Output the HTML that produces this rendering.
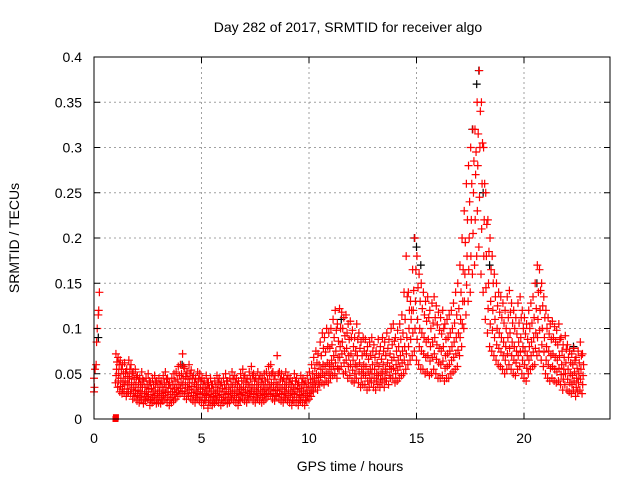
<!DOCTYPE html>
<html><head><meta charset="utf-8"><style>
html,body{margin:0;padding:0;background:#fff;}
svg{display:block;font-family:"Liberation Sans",sans-serif;}
</style></head><body>
<svg id="chart" width="640" height="480" viewBox="0 0 640 480">
<text x="348" y="32" font-size="14" text-anchor="middle">Day 282 of 2017, SRMTID for receiver algo</text>
<text x="350" y="471" font-size="14" text-anchor="middle">GPS time / hours</text>
<text transform="translate(19,238) rotate(-90)" font-size="14" text-anchor="middle">SRMTID / TECUs</text>
<g id="grid"></g>
<g id="marks"></g>
<g id="axes"></g>
</svg>
<script>
const xTicks=[0,5,10,15,20];
const yTicks=[0,0.05,0.1,0.15,0.2,0.25,0.3,0.35,0.4];
const yTickLabels=["0","0.05","0.1","0.15","0.2","0.25","0.3","0.35","0.4"];
const seriesStart=1.0, seriesStep=0.1;
// values in milli-TECU
const midVals=[55,50,45,40,42,38,45,40,35,38,32,30,35,28,30,33,27,30,32,28,30,28,32,35,30,27,30,33,35,38,40,45,38,35,40,36,32,30,35,33,30,28,32,27,30,25,28,32,30,27,30,33,28,30,35,32,30,28,33,35,32,30,35,38,33,30,35,32,30,33,35,38,40,35,32,38,35,33,30,35,32,30,28,33,30,27,32,30,28,32,35,40,45,50,48,55,60,58,62,60,65,70,75,68,80,85,75,78,70,72,65,60,70,62,55,60,58,52,55,60,55,50,58,52,60,55,62,58,65,68,60,65,70,75,80,90,100,110,120,130,110,100,95,90,85,88,80,85,90,82,78,75,80,70,72,75,80,85,90,95,110,130,160,180,200,220,250,270,280,300,260,220,180,150,130,120,110,100,95,90,85,80,90,95,85,80,75,85,90,80,75,70,80,85,90,95,110,120,100,90,80,75,70,72,68,65,70,60,55,62,55,50,48,52,45,50,55,48];
const loVals=[40,35,30,28,30,25,30,28,22,25,20,18,22,17,20,22,15,18,20,17,18,17,20,22,18,15,18,20,22,25,28,30,25,22,25,22,20,18,22,20,18,15,20,12,18,15,17,20,18,15,18,20,17,18,22,20,18,15,20,22,20,18,22,25,20,18,22,20,18,20,22,25,27,22,20,25,22,20,18,22,20,18,15,20,18,15,20,18,15,20,22,25,30,35,32,38,40,38,42,40,45,48,50,45,55,58,50,52,45,48,42,40,45,40,35,38,38,32,35,40,35,32,38,35,40,35,42,38,45,45,40,42,45,48,50,55,60,65,70,75,65,60,55,55,50,52,48,50,55,50,45,45,48,42,45,45,50,52,55,58,70,80,100,115,130,140,160,170,180,190,160,140,110,95,80,75,70,65,60,58,55,50,55,60,55,50,48,55,58,50,45,42,50,55,58,60,70,75,65,58,50,45,42,45,42,40,42,38,32,38,32,30,28,32,25,30,32,28];
const hiVals=[72,68,65,60,62,55,65,60,52,55,48,45,52,42,45,50,40,45,48,42,45,42,48,52,45,40,45,50,52,58,60,72,56,52,60,54,48,45,52,50,45,42,48,40,45,38,42,48,45,40,45,50,42,45,52,48,45,42,50,55,48,45,52,58,50,45,52,48,45,50,52,58,60,52,48,70,52,50,45,52,48,45,42,50,45,40,48,45,42,48,52,60,68,75,72,85,95,90,100,95,100,110,120,105,122,118,112,115,105,108,98,90,105,95,85,90,88,80,85,90,82,75,88,80,90,85,95,88,100,105,90,98,105,115,140,180,140,130,165,200,180,160,150,140,130,135,120,128,135,125,118,112,120,105,110,115,120,128,140,150,170,200,230,260,280,300,320,320,350,385,350,300,250,220,200,180,160,150,140,135,128,120,135,142,128,120,112,128,135,120,112,105,120,128,135,150,170,165,150,135,120,112,105,108,102,98,105,90,82,92,82,75,72,78,68,75,85,72];
const q1Vals=[48,42,36,33,38,30,38,33,28,31,26,24,28,22,25,27,21,24,26,22,24,22,26,29,24,21,24,27,29,31,34,38,31,28,33,29,26,24,28,27,24,21,26,20,24,20,22,26,24,21,24,27,22,24,28,26,24,21,27,29,26,24,28,31,27,24,28,26,24,27,28,31,33,28,26,31,28,27,24,28,26,24,21,27,24,21,26,24,21,26,28,32,38,42,40,46,50,48,52,50,55,58,62,56,68,72,62,65,58,60,54,50,58,52,45,50,48,42,45,50,45,42,48,44,50,45,52,48,55,56,50,54,58,62,65,72,80,88,95,100,88,80,75,72,68,70,64,68,72,66,62,60,64,56,58,60,65,68,72,76,90,105,130,148,165,180,205,220,230,245,210,180,145,122,105,98,90,82,78,74,70,65,72,78,70,65,62,70,74,65,60,56,65,70,74,78,90,98,82,74,65,60,56,58,55,52,56,49,44,50,44,40,38,42,35,40,44,38];
const q3Vals=[63,60,55,50,52,47,55,50,44,46,40,38,44,35,38,42,34,38,40,35,38,35,40,44,38,34,38,42,44,48,50,58,47,44,50,45,40,38,44,42,38,35,40,34,38,32,35,40,38,34,38,42,35,38,44,40,38,35,42,45,40,38,44,48,42,38,44,40,38,42,44,48,50,44,40,50,44,42,38,44,40,38,35,42,38,34,40,38,35,40,44,50,56,62,60,70,78,74,80,78,82,90,98,86,100,100,92,95,88,90,80,75,88,78,70,75,72,66,70,75,68,62,72,66,75,70,78,72,82,86,75,80,88,95,110,135,120,120,142,165,145,130,122,115,108,112,100,106,112,104,98,94,100,88,90,95,100,106,115,122,140,165,195,220,240,260,285,295,315,340,305,260,215,185,165,150,135,125,118,112,106,100,112,118,106,100,94,106,112,100,94,88,100,106,112,122,140,142,125,112,100,94,88,90,85,82,88,75,68,77,68,62,60,65,56,62,70,60];
const earlyT=[0,0,0.02,0.05,0.1,0.12,0.15,0.2,0.22,0.25];
const earlyV=[0.03,0.045,0.035,0.055,0.06,0.085,0.1,0.115,0.12,0.14];
const zeroT=[1.0,1.02];
const zeroV=[0,0.002];
const blackT=[0.2,4.1,11.5,14.9,15.0,15.2,17.6,17.8,17.9,18.1,18.4,20.6,22.3];
const blackV=[0.09,0.06,0.11,0.2,0.19,0.17,0.32,0.37,0.385,0.25,0.17,0.15,0.08];

const L=94,R=610,T=57,B=419;
const xs=t=>L+t/24*(R-L);
const ys=v=>B-v/0.4*(B-T);
const NS="http://www.w3.org/2000/svg";
function mk(tag,attrs,parent){const e=document.createElementNS(NS,tag);for(const k in attrs)e.setAttribute(k,attrs[k]);parent.appendChild(e);return e;}
const grid=document.getElementById('grid'),axes=document.getElementById('axes'),marks=document.getElementById('marks');
xTicks.forEach(t=>{
  if(t>0){const g=mk('line',{x1:xs(t),x2:xs(t),y1:T,y2:B,stroke:'#a0a0a0','stroke-dasharray':'2,3','stroke-width':1},grid);
  
  }
  const tl=mk('line',{x1:xs(t),x2:xs(t),y1:B,y2:B-6,stroke:'#000'},axes);
  
  
  const tl2=mk('line',{x1:xs(t),x2:xs(t),y1:T,y2:T+6,stroke:'#000'},axes);
  
  
  const tx=mk('text',{x:xs(t),y:B+24,'font-size':14,'text-anchor':'middle'},axes);tx.textContent=String(t);
  
  
});
yTicks.forEach((v,i)=>{
  if(v>0&&v<0.4){const g=mk('line',{x1:L,x2:R,y1:ys(v),y2:ys(v),stroke:'#a0a0a0','stroke-dasharray':'2,3','stroke-width':1},grid);
  
  }
  const tl=mk('line',{x1:L,x2:L+6,y1:ys(v),y2:ys(v),stroke:'#000'},axes);
  
  
  const tl2=mk('line',{x1:R,x2:R-6,y1:ys(v),y2:ys(v),stroke:'#000'},axes);
  
  
  const tx=mk('text',{x:L-12,y:ys(v)+5,'font-size':14,'text-anchor':'end'},axes);tx.textContent=yTickLabels[i];
  
  
});
const frame=mk('rect',{x:L,y:T,width:R-L,height:B-T,fill:'none',stroke:'#000','stroke-width':1},axes);


function plus(t,v,color,name){
  const x=xs(t),y=ys(v);
  const p=mk('path',{d:`M${x-4},${y}H${x+4}M${x},${y-4}V${y+4}`,stroke:color,'stroke-width':1.2,fill:'none'},marks);
  
  
}
blackT.forEach((t,i)=>plus(t,blackV[i],'#000','black-point'));
const redSeries=[loVals,q1Vals,midVals,q3Vals,hiVals];
const redOffsets=[0,0.03,0.05,0.07,0.02];
redSeries.forEach((arr,k)=>arr.forEach((v,i)=>plus(seriesStart+i*seriesStep+redOffsets[k],v/1000,'#f00','red-point')));
earlyT.forEach((t,i)=>plus(t,earlyV[i],'#f00','red-point'));
zeroT.forEach((t,i)=>{
  const r=mk('rect',{x:xs(t)-3,y:ys(zeroV[i])-3,width:6,height:6,fill:'#f00'},marks);
  
  
});
</script>
</body></html>
